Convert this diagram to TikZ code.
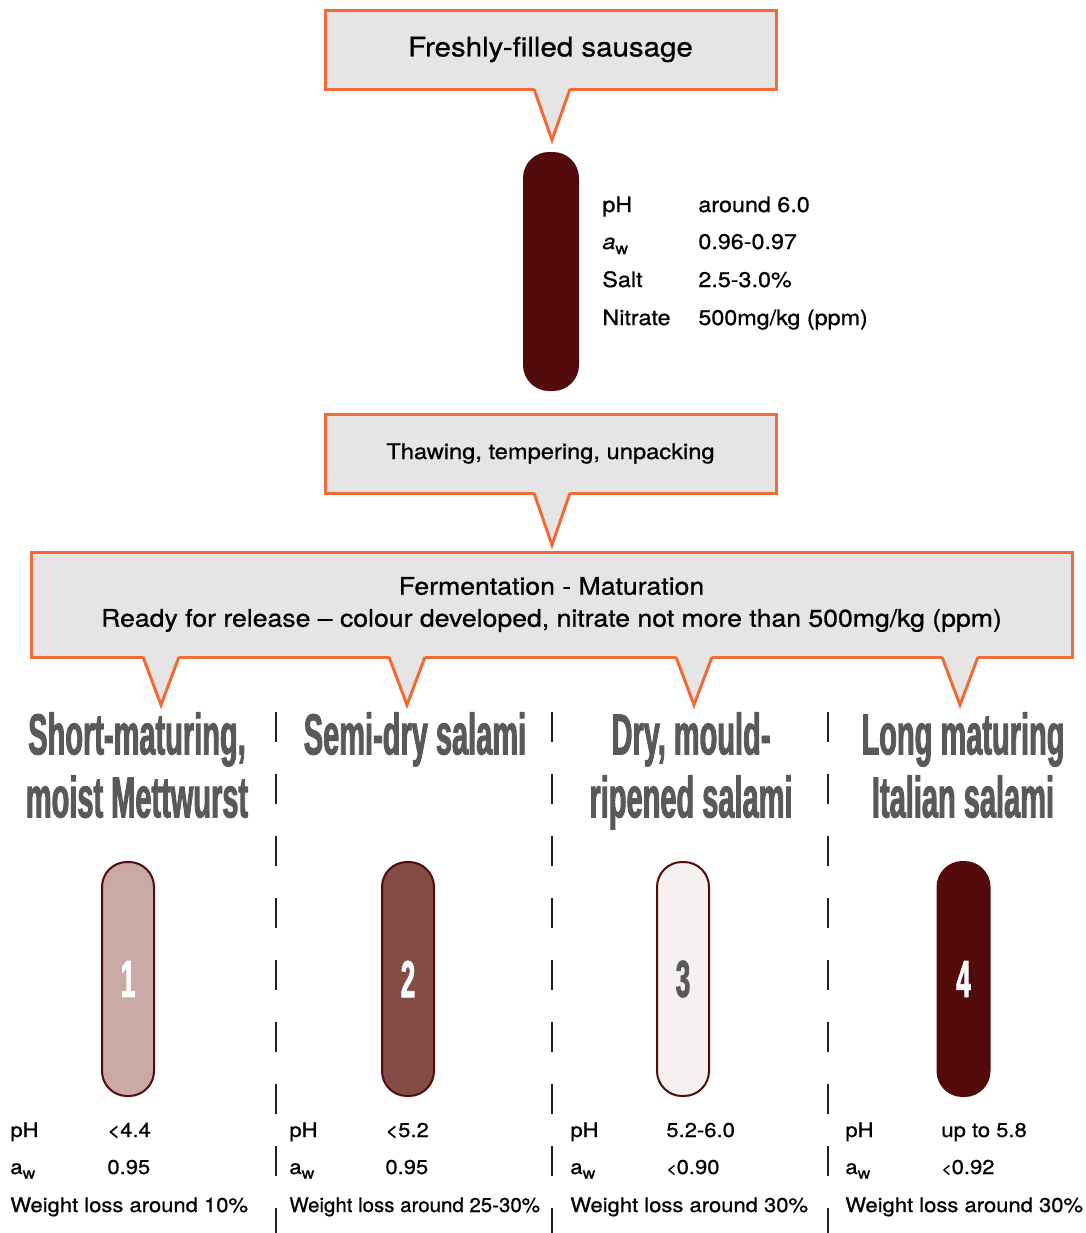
\documentclass[tikz,border=0pt]{standalone}
\usepackage{fontspec}
\setmainfont{TeX Gyre Heros}[FakeStretch=1.1, FakeBold=0.8]
\newfontfamily\narrowfont[FakeStretch=0.5, FakeBold=1.5]{Liberation Sans}
\usetikzlibrary{positioning, calc}

\definecolor{balloonorange}{HTML}{F26A36}
\definecolor{balloongrey}{HTML}{E6E4E5}
\definecolor{headgrey}{HTML}{58595B}
\definecolor{meatdark}{HTML}{520A0B}
\definecolor{meatrose}{HTML}{C9AAA5}
\definecolor{meatmid}{HTML}{844C47}
\definecolor{meatpale}{HTML}{F6F0F0}
\definecolor{rulegrey}{HTML}{231F20}

\newcommand{\headfont}{\narrowfont\bfseries\fontsize{29}{31.5}\selectfont}
\newcommand{\numfont}{\narrowfont\bfseries\fontsize{26}{28}\selectfont}
\newcommand{\datafont}{\fontsize{10}{12}\selectfont}
\newcommand{\smalllt}{{\fontsize{8}{8}\selectfont<}}
\newcommand{\wsub}{\raisebox{-0.45ex}{\fontsize{8}{8}\selectfont w}}
% tail of a speech balloon: box node, tip coordinate
\newcommand{\balloontail}[2]{
	\fill[balloongrey] ($(#1.south -| #2)+(-18,-4)$) -- ($(#1.south -| #2)+(-18,0)$) -- (#2) -- ($(#1.south -| #2)+(18,0)$) -- ($(#1.south -| #2)+(18,-4)$) -- cycle;
	\draw[balloonorange, line width=1.5pt] ($(#1.south -| #2)+(-18,0)$) -- (#2) -- ($(#1.south -| #2)+(18,0)$);
}

\begin{document}
\begin{tikzpicture}[x=0.5pt, y=-0.5pt,
	balloon/.style={draw=balloonorange, fill=balloongrey, line width=1.5pt, inner sep=0pt, outer sep=0pt, align=center},
	sausage/.style={draw=meatdark, line width=1pt, rounded corners=12.5pt, minimum width=26pt, minimum height=117pt, inner sep=0pt, font=\numfont, text=white},
	tallhead/.style={font=\headfont, text=headgrey, align=center, inner sep=0pt, anchor=north},
	datum/.style={font=\datafont, anchor=base west, inner sep=0pt},
	divider/.style={draw=rulegrey, line width=1.3pt, dash pattern=on 15pt off 16pt}]
	\useasboundingbox (0,0) rectangle (1086,1233);
	
	\node[balloon, minimum width=225.5pt, minimum height=39.5pt, font=\fontsize{13.4}{15}\selectfont] (fresh) at (550.5,49.5) {Freshly-filled sausage};
	\coordinate (freshtip) at (552,140);
	\balloontail{fresh}{freshtip}
	
	\node[sausage, fill=meatdark, minimum width=27pt, minimum height=118.5pt] (raw) at (551,271.5) {};
	\node[datum, font=\fontsize{10.6}{12}\selectfont] (rawph) at (602,212) {pH};
	\node[datum, font=\fontsize{10.6}{12}\selectfont] (rawaw) at (602,249) {\textit{a}\wsub};
	\node[datum, font=\fontsize{10.6}{12}\selectfont] (rawsalt) at (602,287) {Salt};
	\node[datum, font=\fontsize{10.6}{12}\selectfont] (rawnitr) at (602,325) {Nitrate};
	\node[datum, font=\fontsize{10.6}{12}\selectfont] (rawphv) at (698,212) {around 6.0};
	\node[datum, font=\fontsize{10.6}{12}\selectfont] (rawawv) at (698,249) {0.96-0.97};
	\node[datum, font=\fontsize{10.6}{12}\selectfont] (rawsaltv) at (698,287) {2.5-3.0\%};
	\node[datum, font=\fontsize{10.6}{12}\selectfont] (rawnitrv) at (698,325) {500mg/kg (ppm)};
	
	\node[balloon, minimum width=225.5pt, minimum height=39.5pt, font=\fontsize{10.75}{12}\selectfont] (thaw) at (550.5,453.5) {Thawing, tempering, unpacking};
	\coordinate (thawtip) at (552,545);
	\balloontail{thaw}{thawtip}
	
	\node[balloon, minimum width=520.5pt, minimum height=52.5pt, font=\fontsize{12.1}{16}\selectfont] (ferm) at (551.5,604.5) {Fermentation - Maturation\\Ready for release -- colour developed, nitrate not more than 500mg/kg (ppm)};
	\coordinate (tipA) at (161,705);
	\coordinate (tipB) at (407,705);
	\coordinate (tipC) at (694,705);
	\coordinate (tipD) at (960,705);
	\balloontail{ferm}{tipA}
	\balloontail{ferm}{tipB}
	\balloontail{ferm}{tipC}
	\balloontail{ferm}{tipD}
	
	\draw[divider] (276,712) -- (276,1233);
	\draw[divider] (552,712) -- (552,1233);
	\draw[divider] (828,712) -- (828,1233);
	
	\node[tallhead] (headA) at (137,712) {Short-maturing,\\moist Mettwurst};
	\node[tallhead] (headB) at (415,712) {Semi-dry salami};
	\node[tallhead] (headC) at (691,712) {Dry, mould-\\ripened salami};
	\node[tallhead] (headD) at (963,712) {Long maturing\\Italian salami};
	
	\node[sausage, fill=meatrose] (sausA) at (128,979) {1};
	\node[sausage, fill=meatmid] (sausB) at (408,979) {2};
	\node[sausage, fill=meatpale, text=headgrey] (sausC) at (683,979) {3};
	\node[sausage, fill=meatdark] (sausD) at (963.5,979) {4};
	
	\node[datum] (phA) at (10,1137) {pH};
	\node[datum] (awA) at (10,1174) {a\wsub};
	\node[datum] (lossA) at (10,1212) {Weight loss around 10\%};
	\node[datum] (phAv) at (107,1137) {<4.4};
	\node[datum] (awAv) at (107,1174) {0.95};
	
	\node[datum] (phB) at (289,1137) {pH};
	\node[datum] (awB) at (289,1174) {a\wsub};
	\node[datum] (lossB) at (289,1212) {\scalebox{0.93}[1]{Weight loss around 25-30\%}};
	\node[datum] (phBv) at (385,1137) {<5.2};
	\node[datum] (awBv) at (385,1174) {0.95};
	
	\node[datum] (phC) at (570,1137) {pH};
	\node[datum] (awC) at (570,1174) {a\wsub};
	\node[datum] (lossC) at (570,1212) {Weight loss around 30\%};
	\node[datum] (phCv) at (666,1137) {5.2-6.0};
	\node[datum] (awCv) at (666,1174) {\smalllt0.90};
	
	\node[datum] (phD) at (845,1137) {pH};
	\node[datum] (awD) at (845,1174) {a\wsub};
	\node[datum] (lossD) at (845,1212) {Weight loss around 30\%};
	\node[datum] (phDv) at (941,1137) {up to 5.8};
	\node[datum] (awDv) at (941,1174) {\smalllt0.92};
\end{tikzpicture}
\end{document}
